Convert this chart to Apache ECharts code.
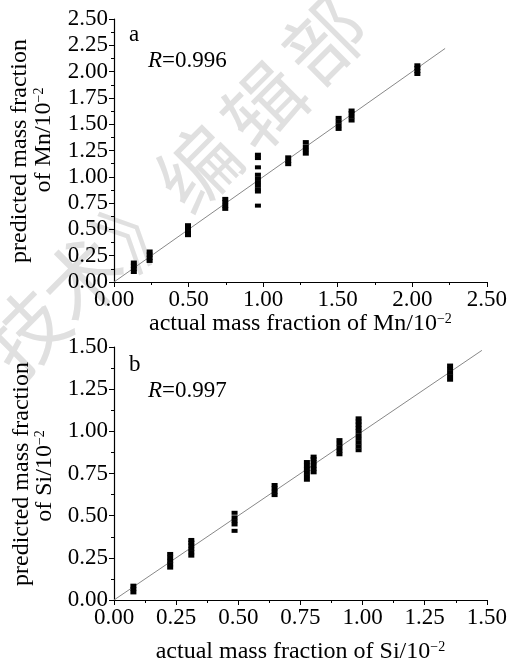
<!DOCTYPE html>
<html><head><meta charset="utf-8">
<script src="https://cdn.jsdelivr.net/npm/echarts@6/dist/echarts.min.js"></script>
<style>html,body{margin:0;padding:0;background:#fff}#c{width:510px;height:665px}</style>
</head><body><div id="c"></div>
<script>
// Panel a: Mn (actual, predicted) pairs, in 10^-2 mass fraction
const mnActual = [
  0.133,0.133,0.133,0.133,
  0.239,0.239,0.239,0.239,
  0.496,0.496,0.496,0.496,
  0.746,0.746,0.746,0.746,
  0.965,0.965,0.965,0.965,0.965,0.965,0.965,0.965,0.965,0.965,
  1.168,1.168,1.168,
  1.286,1.286,1.286,1.286,
  1.506,1.506,1.506,1.506,
  1.593,1.593,1.593,1.593,
  2.034,2.034,2.034,2.034
];
const mnPredicted = [
  0.095,0.125,0.155,0.185,
  0.20,0.23,0.26,0.29,
  0.445,0.475,0.51,0.54,
  0.695,0.725,0.76,0.79,
  1.21,1.178,1.09,1.02,0.985,0.95,0.915,0.88,0.86,0.726,
  1.12,1.15,1.185,
  1.22,1.255,1.29,1.33,
  1.455,1.49,1.525,1.56,
  1.535,1.57,1.605,1.63,
  1.977,2.005,2.035,2.06
];
// Panel b: Si
const siActual = [
  0.078,0.078,0.078,
  0.226,0.226,0.226,0.226,0.226,
  0.311,0.311,0.311,0.311,0.311,0.311,
  0.485,0.485,0.485,0.485,0.485,
  0.646,0.646,0.646,0.646,
  0.776,0.776,0.776,0.776,0.776,0.776,
  0.803,0.803,0.803,0.803,0.803,0.803,
  0.907,0.907,0.907,0.907,0.907,
  0.984,0.984,0.984,0.984,0.984,0.984,0.984,0.984,0.984,0.984,
  1.352,1.352,1.352,1.352,1.352
];
const siPredicted = [
  0.045,0.065,0.085,
  0.192,0.212,0.232,0.252,0.273,
  0.263,0.283,0.303,0.323,0.34,0.356,
  0.41,0.448,0.468,0.49,0.517,
  0.622,0.642,0.662,0.682,
  0.713,0.735,0.757,0.777,0.797,0.818,
  0.757,0.777,0.797,0.817,0.835,0.85,
  0.864,0.884,0.905,0.926,0.948,
  0.888,0.91,0.932,0.955,0.977,1.0,1.02,1.04,1.058,1.077,
  1.306,1.327,1.348,1.37,1.39
];
const mnFitLine = [[0,0],[2.22,2.22]];
const siFitLine = [[0,0],[1.48,1.48]];
const panelLabels = ['a','b'];
const rValues = ['0.996','0.997'];
const elements = ['Mn','Si'];
const watermarkChars = ['技','术','》','编','辑','部'];

const FONT = 'Liberation Serif';
const zip = (a,b) => a.map((v,i)=>[v,b[i]]);

function axis(min,max,interval,gridIndex,extra){
  return Object.assign({
    type:'value', gridIndex, min, max, interval,
    axisLine:{show:true,onZero:false,lineStyle:{color:'#000',width:1.2}},
    axisTick:{show:true,length:5,lineStyle:{color:'#000',width:1}},
    minorTick:{show:true,splitNumber:2,length:3,lineStyle:{color:'#000',width:1}},
    splitLine:{show:false},
    axisLabel:{color:'#000',fontFamily:FONT,fontSize:23,margin:6,formatter:v=>v.toFixed(2)},
    nameLocation:'middle',
    nameTextStyle:{color:'#000',fontFamily:FONT,fontSize:24,
      rich:{n:{fontFamily:FONT,fontSize:24,color:'#000',lineHeight:24},
            s:{fontFamily:FONT,fontSize:14,color:'#000',verticalAlign:'top',lineHeight:14}}}
  }, extra||{});
}

const wmPos = [[26,332],[82,278],[140,224],[198,168],[264,106],[324,40]];
const graphics = watermarkChars.map((c,i)=>({
  type:'text', x:wmPos[i][0], y:wmPos[i][1], rotation:Math.PI/4, z:-10,
  style:{text:c, fill:'#e0e0e0', font:'80px "Noto Sans CJK SC"', textAlign:'center', textVerticalAlign:'middle'}
}));
const labelPos = [[129,35],[129,365]];
const rPos = [[148,61],[148,391]];
const yName1Pos = [[20,151],[22,474]];
const yName2Pos = [[44,140],[45,476]];
panelLabels.forEach((p,i)=>{
  graphics.push({type:'text', x:labelPos[i][0], y:labelPos[i][1], z:10,
    style:{text:p, fill:'#000', font:'23px "'+FONT+'"', textVerticalAlign:'middle'}});
  graphics.push({type:'text', x:rPos[i][0], y:rPos[i][1], z:10,
    style:{text:'{i|R}{t|='+rValues[i]+'}', textVerticalAlign:'middle',
      rich:{i:{fontFamily:FONT,fontSize:23,fontStyle:'italic',fill:'#000'},
            t:{fontFamily:FONT,fontSize:23,fill:'#000'}}}});
  graphics.push({type:'text', x:yName1Pos[i][0], y:yName1Pos[i][1], rotation:Math.PI/2, z:10,
    style:{text:'predicted mass fraction', fill:'#000', font:'24px "'+FONT+'"', textAlign:'center', textVerticalAlign:'middle'}});
  graphics.push({type:'text', x:yName2Pos[i][0], y:yName2Pos[i][1], rotation:Math.PI/2, z:10,
    style:{text:'{n|of '+elements[i]+'/10}{s|−2}', textAlign:'center', textVerticalAlign:'middle',
      rich:{n:{fontFamily:FONT,fontSize:24,fill:'#000',lineHeight:24},
            s:{fontFamily:FONT,fontSize:14,fill:'#000',verticalAlign:'top',lineHeight:14}}}});
});

const chart = echarts.init(document.getElementById('c'));
chart.setOption({
  backgroundColor:'#fff',
  animation:false,
  grid:[{left:114,top:19,width:373,height:263},{left:114,top:347,width:373,height:258}],
  xAxis:[
    axis(0,2.5,0.5,0,{name:'{n|actual mass fraction of Mn/10}{s|−2}',nameGap:30}),
    axis(0,1.5,0.25,1,{name:'{n|actual mass fraction of Si/10}{s|−2}',nameGap:40})
  ],
  yAxis:[
    axis(0,2.5,0.25,0),
    axis(0,1.5,0.25,1)
  ],
  graphic:graphics,
  series:[
    {type:'line',xAxisIndex:0,yAxisIndex:0,data:mnFitLine,symbol:'none',lineStyle:{color:'#888',width:1},z:1},
    {type:'scatter',xAxisIndex:0,yAxisIndex:0,data:zip(mnActual,mnPredicted),symbol:'rect',symbolSize:[6,4],itemStyle:{color:'#000',opacity:1},z:3},
    {type:'line',xAxisIndex:1,yAxisIndex:1,data:siFitLine,symbol:'none',lineStyle:{color:'#888',width:1},z:1},
    {type:'scatter',xAxisIndex:1,yAxisIndex:1,data:zip(siActual,siPredicted),symbol:'rect',symbolSize:[6,4],itemStyle:{color:'#000',opacity:1},z:3}
  ]
});
</script></body></html>
